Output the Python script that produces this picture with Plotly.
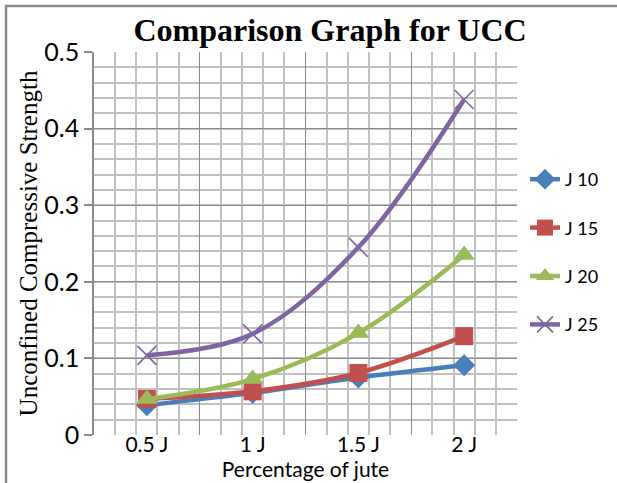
import plotly.graph_objects as go

# Categories: percentage of jute
categories = ["0.5 J", "1 J", "1.5 J", "2 J"]

# Unconfined compressive strength per jute series
j10 = [0.039, 0.055, 0.075, 0.091]
j15 = [0.047, 0.057, 0.081, 0.129]
j20 = [0.047, 0.073, 0.133, 0.235]
j25 = [0.104, 0.132, 0.245, 0.438]

y_ticks = [0, 0.1, 0.2, 0.3, 0.4, 0.5]
y_tick_labels = ["0", "0.1", "0.2", "0.3", "0.4", "0.5"]

series_names = ["J 10", "J 15", "J 20", "J 25"]
series_values = [j10, j15, j20, j25]
series_colors = ["#4a7ebb", "#c0504d", "#9bbb59", "#8064a2"]
series_symbols = ["diamond", "square", "triangle-up", "x-thin"]
series_sizes = [17, 18, 19, 19]

W, H = 617, 483
ML, MR, MT, MB = 94, 100, 52, 48
PW = W - ML - MR
PH = H - MT - MB

SANS = "Lato, 'Open Sans', sans-serif"
SERIF = "'Liberation Serif', 'Times New Roman', serif"

x_idx = list(range(len(categories)))

fig = go.Figure()
for name, vals, col, sym, sz in zip(series_names, series_values, series_colors,
                                     series_symbols, series_sizes):
    marker = dict(symbol=sym, size=sz, color=col)
    if sym == "x-thin":
        marker["line"] = dict(color=col, width=1.6)
    fig.add_trace(go.Scatter(
        x=x_idx, y=vals, name=name, legendgroup=name,
        mode="lines+markers",
        line=dict(color=col, width=4.5, shape="spline", smoothing=1.0),
        marker=marker,
    ))

# Frame around the whole chart (extends past the right and bottom edges)
fig.add_shape(type="rect", xref="paper", yref="paper",
              x0=(6 - ML) / PW, x1=1 + (MR + 20) / PW,
              y0=-(MB + 20) / PH, y1=1 + (MT - 6) / PH,
              line=dict(color="#8c8c8c", width=2.5), fillcolor="rgba(0,0,0,0)",
              layer="below")

GRID_MAJOR = "#8a8a8a"
GRID_MINOR = "#c0c0c0"

fig.update_layout(
    width=W, height=H,
    margin=dict(l=ML, r=MR, t=MT, b=MB),
    paper_bgcolor="white", plot_bgcolor="white",
    title=dict(text="<b>Comparison Graph for UCC</b>",
               font=dict(family=SERIF, size=32, color="black"),
               x=(330) / W, xanchor="center", y=1 - 30 / H, yanchor="middle"),
    xaxis=dict(
        range=[-0.5, 3.5], tickmode="array", tickvals=x_idx, ticktext=categories,
        showgrid=False, zeroline=False, showline=False, ticks="",
        automargin=False, ticklabelstandoff=-5,
        tickfont=dict(family=SANS, size=21, color="black"),
        title=dict(text="Percentage of jute", standoff=2,
                   font=dict(family=SANS, size=21, color="black")),
    ),
    xaxis2=dict(
        overlaying="x", matches="x", range=[-0.5, 3.5],
        tick0=-0.5, dtick=1, showticklabels=False, ticks="",
        showgrid=True, gridcolor=GRID_MAJOR, gridwidth=1.3,
        minor=dict(tick0=-0.5, dtick=0.2, showgrid=True,
                   gridcolor=GRID_MINOR, gridwidth=1.5),
        zeroline=False, showline=False,
    ),
    yaxis=dict(
        range=[0, 0.5], tickmode="array", tickvals=y_ticks, ticktext=y_tick_labels,
        showgrid=True, gridcolor=GRID_MAJOR, gridwidth=1.3,
        minor=dict(tick0=0, dtick=0.02, showgrid=True,
                   gridcolor=GRID_MINOR, gridwidth=1.5),
        zeroline=False, showline=True, linecolor=GRID_MAJOR, linewidth=1.5,
        ticks="outside", ticklen=8, tickcolor=GRID_MAJOR, tickwidth=1.5,
        automargin=False,
        tickfont=dict(family=SANS, size=25, color="black"),
        title=dict(text="Unconfined Compressive Strength", standoff=0,
                   font=dict(family=SERIF, size=25, color="black")),
    ),
    legend=dict(
        x=1 + 8 / PW, xanchor="left", y=1 - (161 - MT) / PH, yanchor="top",
        traceorder="grouped", tracegroupgap=22,
        font=dict(family=SANS, size=18, color="black"),
        bgcolor="rgba(0,0,0,0)",
    ),
    showlegend=True,
)

# Dummy trace so the second x-axis (grid) is drawn
fig.add_trace(go.Scatter(x=[None], y=[None], xaxis="x2", showlegend=False,
                         hoverinfo="skip"))

fig.write_html("out.html")
